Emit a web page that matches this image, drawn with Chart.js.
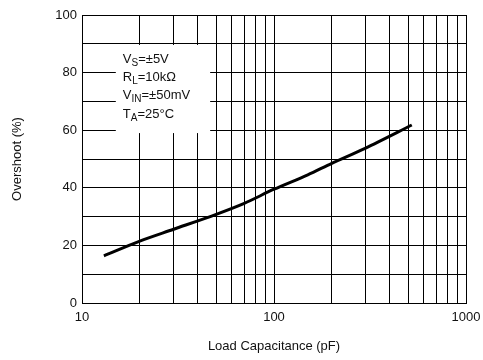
<!DOCTYPE html>
<html lang="en">
<head>
  <meta charset="UTF-8">
  <title>Overshoot vs Load Capacitance</title>
  <script src="https://cdn.jsdelivr.net/npm/chart.js"></script>
  <style>
    html, body { margin: 0; padding: 0; background: #fff; }
    #wrap { width: 483px; height: 360px; }
  </style>
</head>
<body>
  <div id="wrap"><canvas id="chart" width="483" height="360"></canvas></div>

  <script>
  // load capacitance (pF) and overshoot (%)
  const capPF = [13, 20, 30, 50, 70, 100, 150, 200, 300, 522];
  const overshoot = [16.4, 21.5, 25.6, 30.8, 34.6, 39.5, 44.5, 48.5, 53.8, 61.8];

  // grid values and labelled ticks
  const xGrid = [10, 20, 30, 40, 50, 60, 70, 80, 90, 100, 200, 300, 400, 500, 600, 700, 800, 900, 1000];
  const xTickLabels = [10, 100, 1000];
  const yTickLabels = [0, 20, 40, 60, 80, 100];

  // test conditions: [main, subscript, rest]
  const conditions = [
    ['V', 'S', '=\u00B15V'],
    ['R', 'L', '=10k\u03A9'],
    ['V', 'IN', '=\u00B150mV'],
    ['T', 'A', '=25\u00B0C']
  ];

  const FONT = "'Liberation Sans', Arial, sans-serif";
  const INK = '#111';

  // white box with the test conditions, drawn over the grid
  const conditionsBox = {
    id: 'conditionsBox',
    beforeDatasetsDraw(chart) {
      const ctx = chart.ctx;
      const xs = chart.scales.x, ys = chart.scales.y;
      const left = xs.getPixelForValue(15), right = xs.getPixelForValue(46.5);
      const top = ys.getPixelForValue(89.6), bottom = ys.getPixelForValue(59);
      ctx.save();
      ctx.fillStyle = '#fff';
      ctx.fillRect(left, top, right - left, bottom - top);
      ctx.fillStyle = INK;
      ctx.textBaseline = 'alphabetic';
      ctx.textAlign = 'left';
      conditions.forEach(function(c, i) {
        let x = left + 7;
        const y = top + 18 + i * 18.2;
        ctx.font = '13px ' + FONT;
        ctx.fillText(c[0], x, y);
        x += ctx.measureText(c[0]).width;
        ctx.font = '10px ' + FONT;
        ctx.fillText(c[1], x, y + 3);
        x += ctx.measureText(c[1]).width;
        ctx.font = '13px ' + FONT;
        ctx.fillText(c[2], x, y);
      });
      ctx.restore();
    }
  };

  const ctx = document.getElementById('chart').getContext('2d');
  const chart = new Chart(ctx, {
    type: 'line',
    data: {
      datasets: [{
        data: capPF.map(function(c, i) { return { x: c, y: overshoot[i] }; }),
        borderColor: '#000',
        borderWidth: 3,
        pointRadius: 0,
        tension: 0.3,
        fill: false
      }]
    },
    options: {
      responsive: false,
      animation: false,
      events: [],
      layout: { padding: { left: 0, right: 17, top: 15, bottom: 0 } },
      plugins: {
        legend: { display: false },
        tooltip: { enabled: false }
      },
      scales: {
        x: {
          type: 'logarithmic',
          min: 10,
          max: 1000,
          afterBuildTicks: function(scale) {
            scale.ticks = xGrid.map(function(v) { return { value: v }; });
          },
          afterFit: function(scale) {
            scale.height = 57;
            scale.paddingLeft = 0;
            scale.paddingRight = 0;
          },
          border: { color: '#000', width: 1 },
          grid: { color: '#000', lineWidth: 1, drawTicks: false },
          ticks: {
            autoSkip: false,
            maxRotation: 0,
            padding: 7,
            color: INK,
            font: { family: FONT, size: 13 },
            callback: function(v) { return xTickLabels.includes(v) ? String(v) : ''; }
          },
          title: {
            display: true,
            text: 'Load Capacitance (pF)',
            color: INK,
            font: { family: FONT, size: 13 },
            padding: { top: 0, bottom: 6 }
          }
        },
        y: {
          min: 0,
          max: 100,
          afterFit: function(scale) { scale.width = 82; },
          border: { color: '#000', width: 1 },
          grid: { color: '#000', lineWidth: 1, drawTicks: false },
          ticks: {
            stepSize: 10,
            padding: 5,
            color: INK,
            font: { family: FONT, size: 13 },
            callback: function(v) { return yTickLabels.includes(v) ? String(v) : ''; }
          },
          title: {
            display: true,
            text: 'Overshoot (%)',
            color: INK,
            font: { family: FONT, size: 13 },
            padding: { top: 10, bottom: 0 }
          }
        }
      }
    },
    plugins: [conditionsBox]
  });
  </script>
</body>
</html>
